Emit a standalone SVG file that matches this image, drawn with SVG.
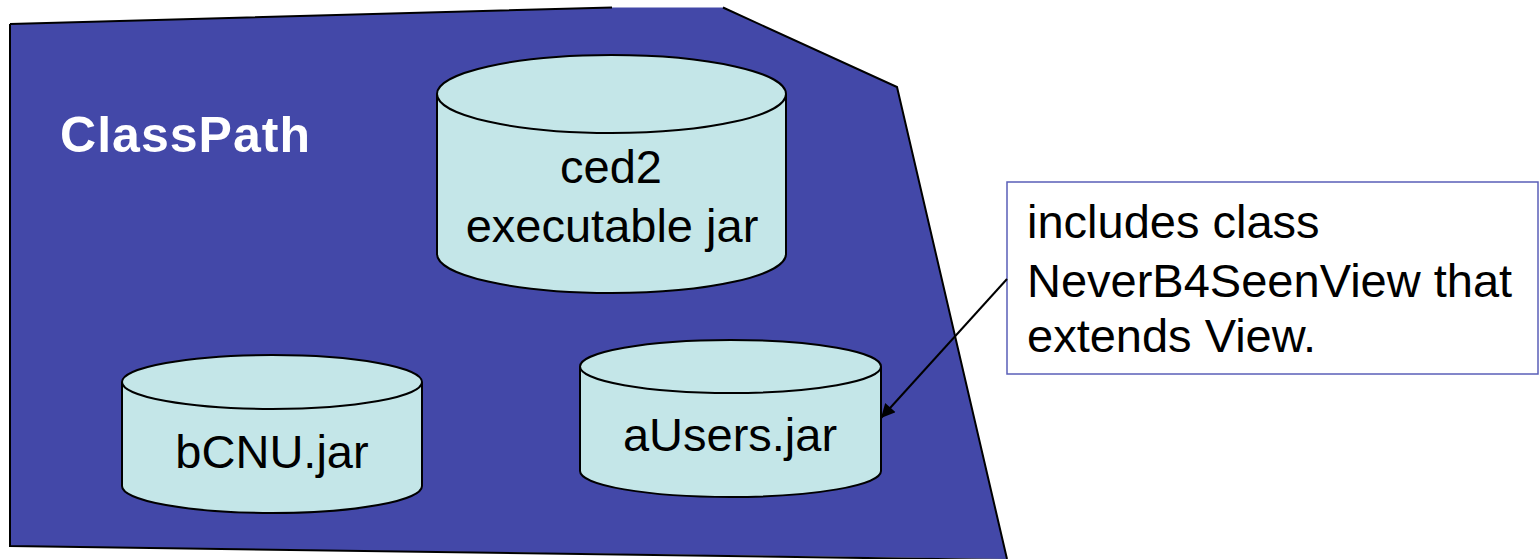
<svg xmlns="http://www.w3.org/2000/svg" width="1540" height="559" viewBox="0 0 1540 559">
<style>
.cyl{fill:#c4e6e8;stroke:#000;stroke-width:2}
.lbl{font-family:"Liberation Sans",Arial,sans-serif;font-size:47px;fill:#000;text-anchor:middle}
.note{font-family:"Liberation Sans",Arial,sans-serif;font-size:47px;fill:#000}
</style>
<defs>
<marker id="arr" viewBox="0 0 10 10" refX="10" refY="5" markerWidth="17" markerHeight="14" markerUnits="userSpaceOnUse" orient="auto">
<path d="M0,0 L10,5 L0,10 z" fill="#000"/>
</marker>
</defs>
<rect width="1540" height="559" fill="#fff"/>
<g id="classpath">
<polygon points="10,24 612,7.5 723,7.5 897,87 1007,559 10,546" fill="#4348a8"/>
<path d="M10,24 L612,7.5 M723,7.5 L897,87 L1007,559 M10,24 L10,546 L1007,560" fill="none" stroke="#000" stroke-width="2"/>
<text x="60" y="152" font-family="Liberation Sans,Arial,sans-serif" font-weight="bold" font-size="50" fill="#fff" textLength="250" lengthAdjust="spacing">ClassPath</text>
</g>
<g id="ced2">
<path class="cyl" d="M437,94 L437,254 A174.5,39 0 0 0 786,254 L786,94"/>
<ellipse class="cyl" cx="611.5" cy="94" rx="174.5" ry="39"/>
<text class="lbl" x="611" y="183">ced2</text>
<text class="lbl" x="612" y="242">executable jar</text>
</g>
<g id="bcnu">
<path class="cyl" d="M122,382 L122,486 A150,27 0 0 0 422,486 L422,382"/>
<ellipse class="cyl" cx="272" cy="382" rx="150" ry="27"/>
<text class="lbl" x="272" y="468">bCNU.jar</text>
</g>
<g id="ausers">
<path class="cyl" d="M580,366.5 L580,471 A150.5,26 0 0 0 881,471 L881,366.5"/>
<ellipse class="cyl" cx="730.5" cy="366.5" rx="150.5" ry="26.5"/>
<text class="lbl" x="730" y="451">aUsers.jar</text>
</g>
<g id="note">
<rect x="1007" y="182" width="531" height="192" fill="#fff" stroke="#5a5fb8" stroke-width="1.5"/>
<text class="note" x="1027" y="238">includes class</text>
<text class="note" x="1027" y="297">NeverB4SeenView that</text>
<text class="note" x="1027" y="352">extends View.</text>
</g>
<g id="connectors">
<line x1="1007" y1="279" x2="881" y2="418" stroke="#000" stroke-width="2" marker-end="url(#arr)"/>
</g>
</svg>
